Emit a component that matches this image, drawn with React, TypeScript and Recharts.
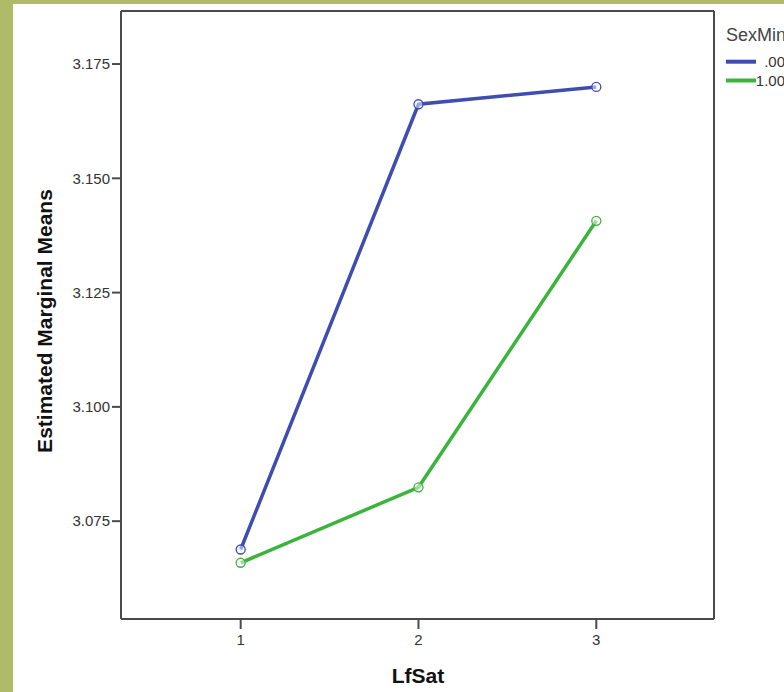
import React from 'react';
import { LineChart, Line, XAxis, YAxis, Legend, ReferenceLine } from 'recharts';

const lfSat = [1, 2, 3];
const seriesNames = ['.00', '1.00'];
const sexMin0 = [3.0688, 3.1662, 3.17];
const sexMin1 = [3.0659, 3.0824, 3.1407];
const yTicks = [3.075, 3.1, 3.125, 3.15, 3.175];
const xTicks = [1, 2, 3];
const colors = ['#3e4db0', '#3cb43c'];
const xDomain = [0.327, 3.662];
const yDomain = [3.0536, 3.1866];

const data = lfSat.map((x, i) => ({ lfSat: x, s0: sexMin0[i], s1: sexMin1[i] }));

const FONT = '"Liberation Sans", Arial, sans-serif';
const axisColor = '#4a4a4a';

const OpenDot = (props: any) => {
  const { cx, cy, stroke } = props;
  if (cx == null || cy == null) return null;
  return <circle cx={cx} cy={cy} r={4.5} stroke={stroke} strokeWidth={1.3} fill="#fff" fillOpacity={0.5} />;
};

const LegendBox = ({ payload }: any) => (
  <svg width={80} height={75} style={{ display: 'block' }}>
    <text x={10} y={20.7} fontSize={18} fill="#444" fontFamily={FONT}>SexMinority</text>
    {(payload || []).map((p: any, i: number) => (
      <g key={`leg-${i}`}>
        <line x1={10} x2={40} y1={41.7 + i * 18.8} y2={41.7 + i * 18.8} stroke={p.color} strokeWidth={4} />
        <text x={69} y={46.7 + i * 19.3} fontSize={15} fill="#333" fontFamily={FONT} textAnchor="end">{p.value}</text>
      </g>
    ))}
  </svg>
);

const YLabel = () => (
  <text x={52} y={321} transform="rotate(-90, 52, 321)" textAnchor="middle" fontSize={21} fontWeight="bold" fill="#111" fontFamily={FONT}>
    Estimated Marginal Means
  </text>
);

const XLabel = () => (
  <text x={418} y={683} textAnchor="middle" fontSize={21} fontWeight="bold" fill="#111" fontFamily={FONT}>
    LfSat
  </text>
);

export default function App() {
  return (
    <div style={{ position: 'fixed', left: 0, top: 0, width: 784, height: 692, background: '#b0bb68', overflow: 'hidden' }}>
      <div style={{ position: 'absolute', left: 13, top: 4, width: 771, height: 688, background: '#fff' }} />
      <div style={{ position: 'absolute', left: 0, top: 0 }}>
        <LineChart width={784} height={692} data={data} margin={{ top: 11, right: 70, bottom: 0, left: 0 }}>
          <XAxis
            dataKey="lfSat"
            type="number"
            domain={xDomain}
            ticks={xTicks}
            allowDataOverflow
            height={73}
            tickSize={10}
            tickMargin={5}
            axisLine={{ stroke: axisColor, strokeWidth: 2 }}
            tickLine={{ stroke: axisColor, strokeWidth: 2 }}
            tick={{ fontSize: 15, fill: '#333', fontFamily: FONT }}
          />
          <YAxis
            type="number"
            domain={yDomain}
            ticks={yTicks}
            allowDataOverflow
            width={121}
            tickSize={9}
            tickMargin={2}
            tickFormatter={(v: number) => v.toFixed(3)}
            axisLine={{ stroke: axisColor, strokeWidth: 2 }}
            tickLine={{ stroke: axisColor, strokeWidth: 2 }}
            tick={{ fontSize: 15, fill: '#333', fontFamily: FONT }}
          />
          <ReferenceLine y={yDomain[1]} stroke={axisColor} strokeWidth={2} ifOverflow="visible" />
          <ReferenceLine x={xDomain[1]} stroke={axisColor} strokeWidth={2} ifOverflow="visible" />
          <Legend
            layout="vertical"
            align="center"
            verticalAlign="middle"
            content={<LegendBox />}
            wrapperStyle={{ position: 'absolute', left: 716, top: 20, width: 80, height: 75 }}
          />
          <Line dataKey="s0" name={seriesNames[0]} stroke={colors[0]} strokeWidth={3.5} dot={<OpenDot />} activeDot={false} isAnimationActive={false} />
          <Line dataKey="s1" name={seriesNames[1]} stroke={colors[1]} strokeWidth={3.5} dot={<OpenDot />} activeDot={false} isAnimationActive={false} />
          <YLabel />
          <XLabel />
        </LineChart>
      </div>
    </div>
  );
}
